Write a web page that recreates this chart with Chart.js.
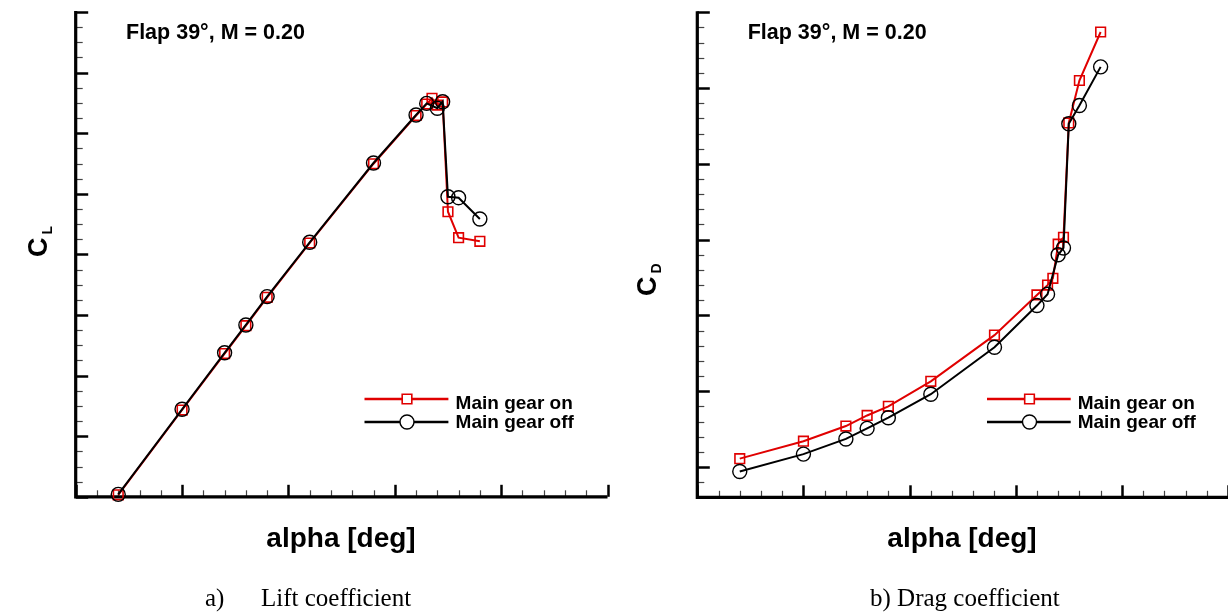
<!DOCTYPE html>
<html>
<head>
<meta charset="utf-8">
<script src="https://cdn.jsdelivr.net/npm/chart.js@4.4.1/dist/chart.umd.min.js"></script>
<style>
  html, body { margin: 0; padding: 0; background: #fff; }
  #wrap { position: relative; width: 1228px; height: 612px; overflow: hidden; background: #fff; }
  canvas { position: absolute; top: 0; }
  #cl { left: 0; }
  #cd { left: 614px; }
</style>
</head>
<body>
<div id="wrap">
  <canvas id="cl" width="614" height="612"></canvas>
  <canvas id="cd" width="614" height="612"></canvas>
</div>
<script>
// Angle of attack sweep [deg]
const ALPHA_ON  = [-3, 0, 2, 3, 4, 6, 9, 11, 11.5, 11.75, 12, 12.25, 12.5, 13, 14];
const ALPHA_OFF = [-3, 0, 2, 3, 4, 6, 9, 11, 11.5, 12, 12.25, 12.5, 13, 14];

// Lift coefficient
const CL_ON  = [1.008, 1.358, 1.591, 1.706, 1.823, 2.047, 2.374, 2.573, 2.620, 2.644, 2.616, 2.629, 2.176, 2.069, 2.054];
const CL_OFF = [1.010, 1.361, 1.594, 1.709, 1.826, 2.050, 2.377, 2.575, 2.623, 2.603, 2.630, 2.238, 2.234, 2.146];

// Drag coefficient
const CD_ON  = [0.111, 0.134, 0.154, 0.168, 0.180, 0.213, 0.274, 0.327, 0.340, 0.349, 0.394, 0.403, 0.554, 0.610, 0.674];
const CD_OFF = [0.094, 0.117, 0.137, 0.151, 0.165, 0.196, 0.258, 0.313, 0.328, 0.380, 0.389, 0.553, 0.577, 0.628];

const SERIES_NAMES = ['Main gear on', 'Main gear off'];
const ANNOTATION = 'Flap 39\u00B0, M = 0.20';
const X_TITLE = 'alpha [deg]';
const CAPTION_A = ['a)', 'Lift coefficient'];
const CAPTION_B = 'b) Drag coefficient';

// Axis ranges and tick steps
const X_RANGE = [-5, 20];
const X_STEP = { major: 5, minor: 1 };
const CL_RANGE = [1.0, 3.0];
const CL_STEP = { major: 0.25, minor: 0.0625 };
const CD_RANGE = [0.06, 0.70];
const CD_STEP = { major: 0.10, minor: 0.02 };

const RED = '#e00000';
const BLACK = '#000000';
const SANS = '"Liberation Sans", Arial, Helvetica, sans-serif';
const SERIF = '"Liberation Serif", "Times New Roman", serif';

function tickValues(lo, hi, step) {
  const out = [];
  const n = Math.round((hi - lo) / step);
  for (let i = 0; i <= n; i++) out.push(+(lo + i * step).toFixed(6));
  return out;
}
function isMultiple(v, step) {
  const r = v / step;
  return Math.abs(r - Math.round(r)) < 1e-6;
}

// Axis frame with inward major/minor ticks, drawn from the chart's own scales
const framePlugin = {
  id: 'frame',
  beforeDatasetsDraw(chart, args, o) {
    const { ctx, chartArea: ca } = chart;
    const xs = chart.scales.x, ys = chart.scales.y;
    ctx.save();
    ctx.lineCap = 'butt';
    // x ticks
    tickValues(X_RANGE[0], X_RANGE[1], X_STEP.minor).forEach(v => {
      const px = Math.round(xs.getPixelForValue(v)) + 0.5;
      const major = isMultiple(v, X_STEP.major);
      ctx.strokeStyle = major ? '#000' : '#444';
      ctx.lineWidth = major ? 2.5 : 1.2;
      ctx.beginPath();
      ctx.moveTo(px, ca.bottom);
      ctx.lineTo(px, ca.bottom - (major ? 12 : 6.5));
      ctx.stroke();
    });
    // y ticks
    tickValues(o.yRange[0], o.yRange[1], o.yStep.minor).forEach(v => {
      const py = Math.round(ys.getPixelForValue(v)) + 0.5;
      const major = isMultiple(v, o.yStep.major);
      ctx.strokeStyle = major ? '#000' : '#444';
      ctx.lineWidth = major ? 2.5 : 1.2;
      ctx.beginPath();
      ctx.moveTo(ca.left, py);
      ctx.lineTo(ca.left + (major ? 12.5 : 7), py);
      ctx.stroke();
    });
    // axis lines
    ctx.strokeStyle = '#000';
    ctx.lineWidth = 3.2;
    ctx.beginPath();
    ctx.moveTo(ca.left, ca.top - 1);
    ctx.lineTo(ca.left, ca.bottom);
    ctx.lineTo(ca.right, ca.bottom);
    ctx.stroke();
    ctx.restore();
  },
  afterDraw(chart, args, o) {
    const { ctx } = chart;
    const dx = o.offset;
    ctx.save();
    ctx.fillStyle = '#000';
    ctx.textBaseline = 'alphabetic';

    // condition annotation
    ctx.font = 'bold 21.5px ' + SANS;
    ctx.textAlign = 'left';
    ctx.fillText(ANNOTATION, o.annot[0] - dx, o.annot[1]);

    // legend built from the dataset styles
    const ds = chart.data.datasets;
    const order = [ds.find(d => d.label === SERIES_NAMES[0]), ds.find(d => d.label === SERIES_NAMES[1])];
    const rows = [o.legend.y0, o.legend.y1];
    const bases = [o.legend.b0, o.legend.b1];
    order.forEach((d, i) => {
      const y = rows[i];
      ctx.strokeStyle = d.borderColor;
      ctx.lineWidth = 2.4;
      ctx.beginPath();
      ctx.moveTo(o.legend.x0 - dx, y);
      ctx.lineTo(o.legend.x1 - dx, y);
      ctx.stroke();
      ctx.fillStyle = '#fff';
      ctx.strokeStyle = d.pointBorderColor;
      ctx.lineWidth = d.pointBorderWidth;
      Chart.helpers.drawPoint(ctx, { pointStyle: d.pointStyle, radius: d.pointRadius, borderWidth: d.pointBorderWidth, rotation: 0 }, o.legend.xm - dx, y);
      ctx.fillStyle = '#000';
      ctx.font = 'bold 19px ' + SANS;
      ctx.fillText(d.label, o.legend.xt - dx, bases[i]);
    });

    // x-axis title
    ctx.font = 'bold 28px ' + SANS;
    ctx.textAlign = 'center';
    ctx.fillText(X_TITLE, o.xTitle[0] - dx, o.xTitle[1]);

    // y-axis title with subscript, rotated
    ctx.save();
    ctx.translate(o.yTitle[0] - dx, o.yTitle[1]);
    ctx.rotate(-Math.PI / 2);
    ctx.textAlign = 'left';
    ctx.font = 'bold 27px ' + SANS;
    ctx.fillText('C', 0, 0);
    const cw = ctx.measureText('C').width;
    ctx.font = 'bold 14px ' + SANS;
    ctx.fillText(o.ySub, cw + 3, 5);
    ctx.restore();

    // figure caption
    ctx.font = '25px ' + SERIF;
    ctx.textAlign = 'left';
    o.caption.forEach(c => ctx.fillText(c.text, c.x - dx, c.y));
    ctx.restore();
  }
};

function seriesPoints(xs, ys) {
  return xs.map((a, i) => ({ x: a, y: ys[i] }));
}

function makeChart(id, yOn, yOff, yRange, yStep, padding, frameOpts) {
  return new Chart(document.getElementById(id), {
    type: 'line',
    data: {
      datasets: [
        {
          label: SERIES_NAMES[1],
          data: seriesPoints(ALPHA_OFF, yOff),
          order: 0,
          borderColor: BLACK,
          borderWidth: 2,
          pointStyle: 'circle',
          pointRadius: 7,
          pointBorderColor: BLACK,
          pointBackgroundColor: 'rgba(255,255,255,0)',
          pointBorderWidth: 1.4,
          tension: 0,
          clip: false
        },
        {
          label: SERIES_NAMES[0],
          data: seriesPoints(ALPHA_ON, yOn),
          order: 1,
          borderColor: RED,
          borderWidth: 2,
          pointStyle: 'rect',
          pointRadius: 6.8,
          pointBorderColor: RED,
          pointBackgroundColor: 'rgba(255,255,255,0)',
          pointBorderWidth: 1.6,
          tension: 0,
          clip: false
        }
      ]
    },
    options: {
      responsive: false,
      animation: false,
      devicePixelRatio: 1,
      events: [],
      layout: { padding: padding, autoPadding: false },
      plugins: {
        legend: { display: false },
        tooltip: { enabled: false },
        frame: Object.assign({ yRange: yRange, yStep: yStep }, frameOpts)
      },
      scales: {
        x: { type: 'linear', display: false, min: X_RANGE[0], max: X_RANGE[1] },
        y: { type: 'linear', display: false, min: yRange[0], max: yRange[1] }
      }
    },
    plugins: [framePlugin]
  });
}

makeChart('cl', CL_ON, CL_OFF, CL_RANGE, CL_STEP,
  { left: 75.7, top: 12, right: 6.5, bottom: 115.2 },
  {
    offset: 0,
    annot: [126, 39],
    legend: { x0: 364.5, x1: 448.4, xm: 407, xt: 455.6, y0: 399, y1: 422, b0: 408.5, b1: 428 },
    xTitle: [341, 547],
    yTitle: [47, 257],
    ySub: 'L',
    caption: [{ text: CAPTION_A[0], x: 205, y: 606 }, { text: CAPTION_A[1], x: 261, y: 606 }]
  });

makeChart('cd', CD_ON, CD_OFF, CD_RANGE, CD_STEP,
  { left: 83.3, top: 12.3, right: 0, bottom: 114.7 },
  {
    offset: 614,
    annot: [747.7, 39],
    legend: { x0: 987, x1: 1070.7, xm: 1029.5, xt: 1077.7, y0: 399, y1: 422, b0: 408.5, b1: 428 },
    xTitle: [962, 547],
    yTitle: [656, 296],
    ySub: 'D',
    caption: [{ text: CAPTION_B, x: 870, y: 606 }]
  });
</script>
</body>
</html>
